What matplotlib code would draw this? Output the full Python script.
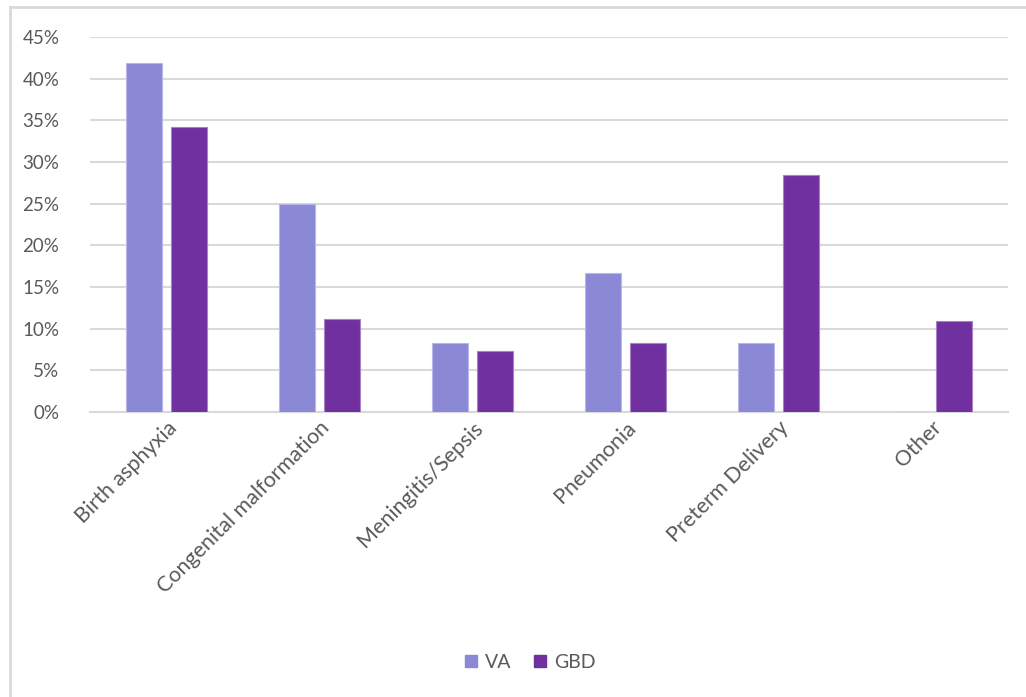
import matplotlib
matplotlib.use("Agg")
import matplotlib.pyplot as plt
import numpy as np
from matplotlib.ticker import PercentFormatter
from matplotlib.lines import Line2D

categories = ["Birth asphyxia", "Congenital malformation", "Meningitis/Sepsis",
              "Pneumonia", "Preterm Delivery", "Other"]
va = [0.419, 0.250, 0.083, 0.167, 0.083, 0.0]
gbd = [0.342, 0.112, 0.073, 0.083, 0.284, 0.109]
series_names = ["VA", "GBD"]
yticks = [0, 0.05, 0.10, 0.15, 0.20, 0.25, 0.30, 0.35, 0.40, 0.45]

plt.rcParams['font.family'] = ['Lato', 'DejaVu Sans']
text_color = "#595959"
grid_color = "#D9D9D9"
c_va = "#8B88D6"
c_gbd = "#7030A0"

fig = plt.figure(figsize=(10.26, 6.97), dpi=100)
ax = fig.add_axes([0.0877, 0.409, 0.8948, 0.538])

x = np.arange(len(categories))
w = 0.23
off = 0.147
ax.bar(x - off, va, width=w, color=c_va, edgecolor="#B9B7EA", linewidth=0.8, zorder=3)
ax.bar(x + off, gbd, width=w, color=c_gbd, edgecolor="#A880C8", linewidth=0.8, zorder=3)

ax.set_xlim(-0.5, len(categories) - 0.5)
ax.set_ylim(0, 0.45)
ax.set_yticks(yticks)
ax.yaxis.set_major_formatter(PercentFormatter(1.0, decimals=0))
ax.grid(axis="y", color=grid_color, linewidth=1.5, zorder=0)
ax.tick_params(axis="y", length=0, pad=22, labelsize=13.5, labelcolor=text_color)
ax.tick_params(axis="x", length=0, pad=4)
for s in ["top", "right", "left"]:
    ax.spines[s].set_visible(False)
ax.spines["bottom"].set_color(grid_color)
ax.spines["bottom"].set_linewidth(1.5)

ax.set_xticks(x)
ax.set_xticklabels(categories, rotation=45, ha="right", rotation_mode="anchor",
                   fontsize=15.5, color=text_color)
for lbl in ax.get_xticklabels():
    lbl.set_fontstretch("expanded")

handles = [Line2D([], [], marker="s", linestyle="none", markersize=9, color=c_va),
           Line2D([], [], marker="s", linestyle="none", markersize=9, color=c_gbd)]
fig.legend(handles, series_names, loc="center", bbox_to_anchor=(0.515, 0.05), ncol=2,
           frameon=False, fontsize=14, labelcolor=text_color, handletextpad=0.2,
           columnspacing=1.0, handlelength=1.0)

# outer chart frame (top and left edges visible in crop)
fig.add_artist(Line2D([10/1026, 10/1026], [0, 1 - 7/697], transform=fig.transFigure,
                      color=grid_color, linewidth=2))
fig.add_artist(Line2D([10/1026, 1.0], [1 - 7/697, 1 - 7/697], transform=fig.transFigure,
                      color=grid_color, linewidth=2))

fig.savefig("out.png", dpi=100)
